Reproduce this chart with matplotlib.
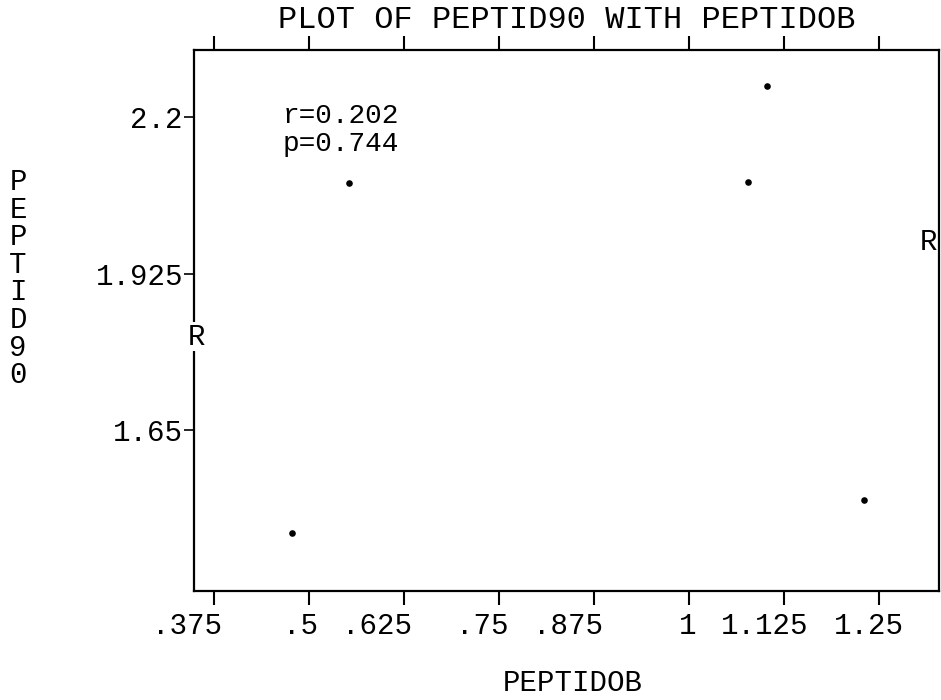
import matplotlib
matplotlib.use("Agg")
import matplotlib.pyplot as plt
from matplotlib.transforms import ScaledTranslation

# data
peptidob = [0.478, 0.553, 1.078, 1.103, 1.230]
peptid90 = [1.469, 2.084, 2.086, 2.254, 1.527]

x_ticks = [0.375, 0.5, 0.625, 0.75, 0.875, 1.0, 1.125, 1.25]
x_labels = [".375", ".5", ".625", ".75", ".875", "1", "1.125", "1.25"]
y_ticks = [1.65, 1.925, 2.2]
y_labels = ["1.65", "1.925", "2.2"]

# the old line-printer layout puts labels on a character grid, not centred
x_label_shift_px = [-27, -8, -27, -17, -26, -1, -19, -10]

FONT = "Liberation Mono"
plt.rcParams["font.family"] = [FONT, "DejaVu Sans Mono"]
FS = 21

W, H = 941, 700
fig = plt.figure(figsize=(W / 100, H / 100), dpi=100)
ax = fig.add_axes([194 / W, 1 - 591 / H, (939 - 194) / W, (591 - 50) / H])

ax.scatter(peptidob, peptid90, s=14, color="black", zorder=3)

ax.set_xlim(0.349, 1.329)
ax.set_ylim(1.367, 2.318)

ax.set_xticks(x_ticks)
ax.set_xticklabels(x_labels, fontsize=FS)
ax.set_yticks(y_ticks)
ax.set_yticklabels(y_labels, fontsize=FS)
ax.tick_params(axis="x", direction="out", length=10, width=1.5, pad=5,
               top=True, labeltop=False)
ax.tick_params(axis="y", direction="out", length=7, width=1.2, pad=1,
               right=False)
for lab, dx in zip(ax.get_xticklabels(), x_label_shift_px):
    lab.set_transform(lab.get_transform()
                      + ScaledTranslation(dx / 100, 0, fig.dpi_scale_trans))
for s in ax.spines.values():
    s.set_linewidth(1.6)

# r and p annotation, one line each
ax.text(0.119, (591 - 116) / 541, "r=0.202", transform=ax.transAxes,
        fontsize=20, va="center", ha="left")
ax.text(0.119, (591 - 144) / 541, "p=0.744", transform=ax.transAxes,
        fontsize=20, va="center", ha="left")

# SPSS regression markers on the frame
ax.text(0.004, 0.47, "R", transform=ax.transAxes, fontsize=FS,
        ha="center", va="center", clip_on=False,
        bbox=dict(facecolor="white", edgecolor="none", pad=0.5))
fig.text(929 / W, 1 - 242 / H, "R", fontsize=FS, ha="center", va="center")

fig.text(567 / W, 1 - 20 / H, "PLOT OF PEPTID90 WITH PEPTIDOB",
         fontsize=23, ha="center", va="center")
fig.text(573 / W, 1 - 683 / H, "PEPTIDOB", fontsize=FS,
         ha="center", va="center")
for i, ch in enumerate("PEPTID90"):
    fig.text(18 / W, 1 - (182 + 27.6 * i) / H, ch, fontsize=FS,
             ha="center", va="center")

fig.savefig("out.png", dpi=100)
